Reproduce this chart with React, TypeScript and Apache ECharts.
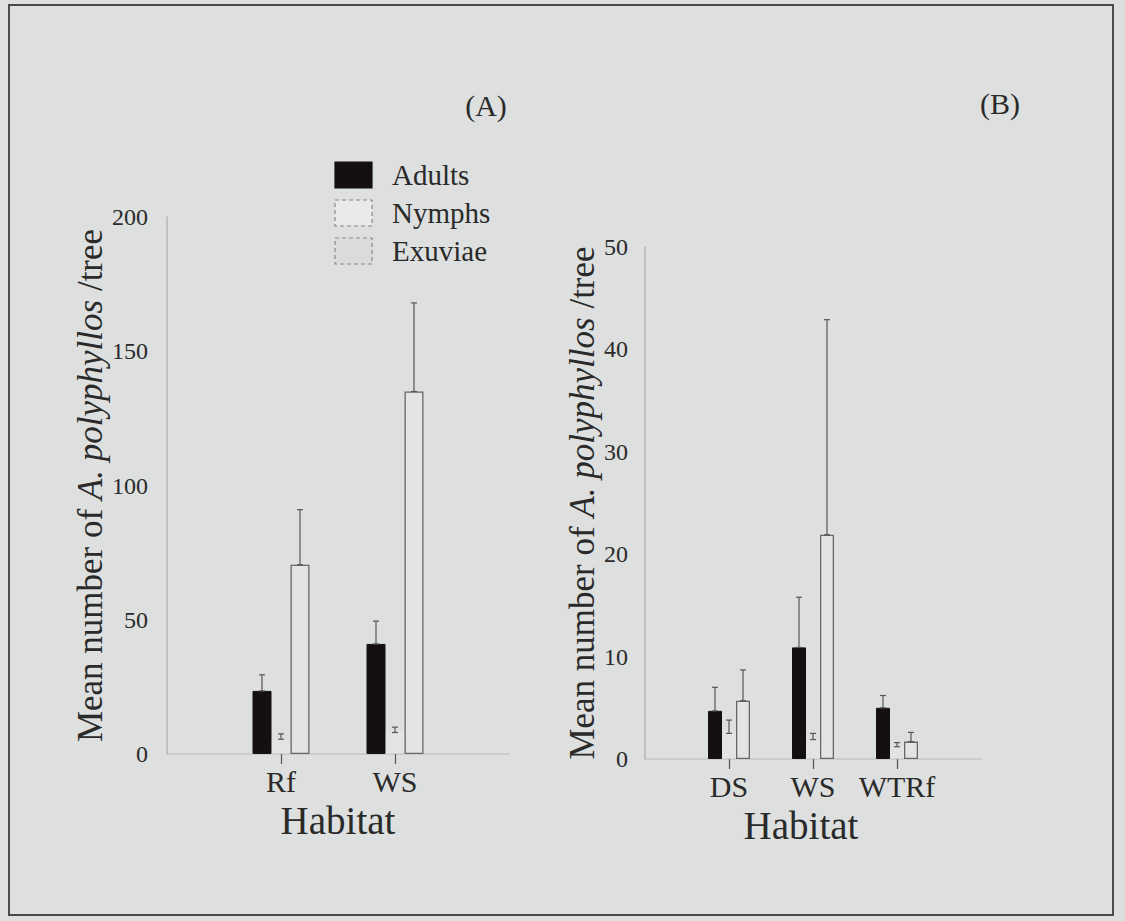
import React, { useEffect, useRef } from "react";
import * as echarts from "echarts";

// Panel A
const habitatsA = ["Rf", "WS"];
const adultsA = [23.5, 41];
const adultsAErr = [29.5, 49.5];
const nymphsA = [5.5, 8];
const nymphsAErr = [7.5, 10];
const exuviaeA = [70.5, 135];
const exuviaeAErr = [91, 168];
const yTicksA = [0, 50, 100, 150, 200];

// Panel B
const habitatsB = ["DS", "WS", "WTRf"];
const adultsB = [4.7, 10.9, 5.0];
const adultsBErr = [7.0, 15.8, 6.2];
const nymphsB = [2.5, 1.9, 1.2];
const nymphsBErr = [3.8, 2.5, 1.6];
const exuviaeB = [5.7, 21.9, 1.7];
const exuviaeBErr = [8.7, 42.9, 2.6];
const yTicksB = [0, 10, 20, 30, 40, 50];

const seriesNames = ["Adults", "Nymphs", "Exuviae"];

const FONT = "Liberation Serif";
const TXT = "#2a2a2a";
const BG = "#dde0df";

function pad(arr: any[]) {
  return ["-", ...arr, "-"];
}

export default function App() {
  const ref = useRef<HTMLDivElement>(null);
  useEffect(() => {
    document.body.style.margin = "0";
    document.body.style.background = BG;
    const chart = echarts.init(ref.current!, null, { renderer: "svg" });

    const catsA = ["", ...habitatsA, ""];
    const catsB = ["", ...habitatsB, ""];

    const barStyles = [
      { color: "#141012", borderColor: "#141012", borderWidth: 1 },
      { color: "rgba(255,255,255,0.15)", borderColor: "rgba(0,0,0,0)", borderWidth: 0 },
      { color: "#e3e5e4", borderColor: "#6a6568", borderWidth: 1.3 },
    ];

    const makeBars = (gi: number, vals: number[][], bw: number) =>
      vals.map((v, si) => ({
        name: seriesNames[si],
        type: "bar",
        xAxisIndex: gi,
        yAxisIndex: gi,
        barWidth: bw,
        barGap: "0%",
        data: pad(v),
        itemStyle: barStyles[si],
        z: 2,
      }));

    const makeErr = (gi: number, vals: number[][], errs: number[][], bw: number) => {
      const data: number[][] = [];
      vals.forEach((v, si) => {
        v.forEach((val, ci) => {
          data.push([ci + 1, val, errs[si][ci], si - 1]);
        });
      });
      return {
        type: "custom",
        xAxisIndex: gi,
        yAxisIndex: gi,
        z: 5,
        data,
        renderItem: (params: any, api: any) => {
          const c = api.value(0);
          const lo = api.coord([c, api.value(1)]);
          const hi = api.coord([c, api.value(2)]);
          const x = lo[0] + api.value(3) * bw;
          const cap = 3;
          const st = { stroke: "#5a5558", lineWidth: 1.2 };
          return {
            type: "group",
            children: [
              { type: "line", shape: { x1: x, y1: lo[1], x2: x, y2: hi[1] }, style: st },
              { type: "line", shape: { x1: x - cap, y1: hi[1], x2: x + cap, y2: hi[1] }, style: st },
              { type: "line", shape: { x1: x - cap, y1: lo[1], x2: x + cap, y2: lo[1] }, style: st },
            ],
          };
        },
      };
    };

    const bwA = 19;
    const bwB = 14;

    const xAxisCommon = (gi: number, data: string[], namePad: number[]) => ({
      type: "category",
      gridIndex: gi,
      data,
      boundaryGap: false,
      axisLine: { lineStyle: { color: "#c4c6c5", width: 1.5 } },
      axisTick: {
        show: true,
        length: 10,
        interval: (i: number, v: string) => v !== "",
        lineStyle: { color: "#555", width: 1.2 },
      },
      axisLabel: { interval: 0, color: TXT, fontFamily: FONT, fontSize: 30, margin: 12 },
      name: "Habitat",
      nameLocation: "middle",
      nameGap: 43,
      nameTextStyle: { color: TXT, fontFamily: FONT, fontSize: 39, padding: namePad },
    });

    const yName = {
      fontFamily: FONT,
      color: TXT,
      fontSize: 35,
      rich: {
        n: { fontFamily: FONT, color: TXT, fontSize: 35 },
        i: { fontFamily: FONT, color: TXT, fontSize: 35, fontStyle: "italic" },
      },
    };

    const yAxisCommon = (gi: number, ticks: number[], gap: number, margin: number) => ({
      type: "value",
      gridIndex: gi,
      min: ticks[0],
      max: ticks[ticks.length - 1],
      interval: ticks[1] - ticks[0],
      splitLine: { show: false },
      axisLine: { show: true, lineStyle: { color: "#b4b6b5", width: 1.5 } },
      axisTick: { show: false },
      axisLabel: { color: TXT, fontFamily: FONT, fontSize: 24, margin },
      name: "{n|Mean number of }{i|A. polyphyllos}{n| /tree}",
      nameLocation: "middle",
      nameRotate: 90,
      nameGap: gap,
      nameTextStyle: yName,
    });

    const legendItems = [
      { y: 162, fill: "#141012", stroke: "#141012", dash: null as any },
      { y: 200, fill: "#e9ebea", stroke: "#8a8688", dash: [4, 3] },
      { y: 238, fill: "#dadcdb", stroke: "#8a8688", dash: [4, 3] },
    ];

    const graphic: any[] = [
      {
        type: "rect",
        shape: { x: 9, y: 5, width: 1104, height: 910 },
        style: { fill: "none", stroke: "#4d4a4c", lineWidth: 2 },
        silent: true,
      },
      {
        type: "text",
        x: 486,
        y: 105,
        style: { text: "(A)", fontFamily: FONT, fontSize: 30, fill: TXT, align: "center", verticalAlign: "middle" },
      },
      {
        type: "text",
        x: 1000,
        y: 103,
        style: { text: "(B)", fontFamily: FONT, fontSize: 30, fill: TXT, align: "center", verticalAlign: "middle" },
      },
    ];
    legendItems.forEach((it, i) => {
      graphic.push({
        type: "rect",
        shape: { x: 335, y: it.y, width: 37, height: 26 },
        style: { fill: it.fill, stroke: it.stroke, lineWidth: 1.2, lineDash: it.dash },
      });
      graphic.push({
        type: "text",
        x: 392,
        y: it.y + 13,
        style: { text: seriesNames[i], fontFamily: FONT, fontSize: 29, fill: TXT, verticalAlign: "middle" },
      });
    });

    const option: any = {
      animation: false,
      backgroundColor: BG,
      textStyle: { fontFamily: FONT },
      grid: [
        { left: 167, top: 217, width: 342, height: 537 },
        { left: 645, top: 247, width: 336, height: 512 },
      ],
      xAxis: [xAxisCommon(0, catsA, [0, 0, 0, 0]), xAxisCommon(1, catsB, [0, 24, 0, 0])],
      yAxis: [yAxisCommon(0, yTicksA, 56, 19), yAxisCommon(1, yTicksB, 35, 17)],
      series: [
        ...makeBars(0, [adultsA, nymphsA, exuviaeA], bwA),
        makeErr(0, [adultsA, nymphsA, exuviaeA], [adultsAErr, nymphsAErr, exuviaeAErr], bwA),
        ...makeBars(1, [adultsB, nymphsB, exuviaeB], bwB),
        makeErr(1, [adultsB, nymphsB, exuviaeB], [adultsBErr, nymphsBErr, exuviaeBErr], bwB),
      ],
      graphic,
    };
    chart.setOption(option);
    return () => chart.dispose();
  }, []);
  return <div ref={ref} style={{ width: 1125, height: 921 }} />;
}
